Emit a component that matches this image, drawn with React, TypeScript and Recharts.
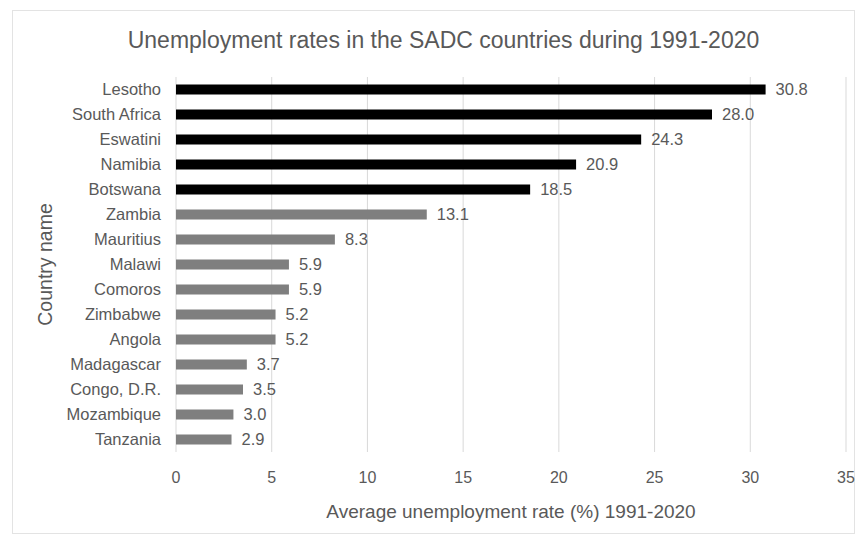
import React from 'react';
import { BarChart, Bar, XAxis, YAxis, CartesianGrid, Cell, LabelList, Label } from 'recharts';

const countries = ['Lesotho', 'South Africa', 'Eswatini', 'Namibia', 'Botswana', 'Zambia', 'Mauritius', 'Malawi', 'Comoros', 'Zimbabwe', 'Angola', 'Madagascar', 'Congo, D.R.', 'Mozambique', 'Tanzania'];
const rates = [30.8, 28.0, 24.3, 20.9, 18.5, 13.1, 8.3, 5.9, 5.9, 5.2, 5.2, 3.7, 3.5, 3.0, 2.9];
const xTicks = [0, 5, 10, 15, 20, 25, 30, 35];
const highlightedCount = 5;

const data = countries.map((c, i) => ({ country: c, rate: rates[i] }));

const FONT = '"Liberation Sans", Arial, sans-serif';

export default function App() {
  return (
    <div style={{ position: 'absolute', left: 0, top: 0, width: 865, height: 540, background: '#fff', fontFamily: FONT }}>
      <div style={{ position: 'absolute', left: 12, top: 10, width: 843, height: 524, border: '1px solid #e3e3e3', boxSizing: 'border-box' }} />
      <div style={{ position: 'absolute', left: 0, top: 26, width: 887, textAlign: 'center', fontSize: 23, lineHeight: '28px', color: '#595959' }}>
        Unemployment rates in the SADC countries during 1991-2020
      </div>
      <div style={{ position: 'absolute', left: 0, top: 0 }}>
        <BarChart width={865} height={540} data={data} layout="vertical" margin={{ top: 77, right: 19, bottom: 22, left: 0 }} barCategoryGap="30%">
          <CartesianGrid horizontal={false} vertical={true} stroke="#d9d9d9" />
          <XAxis type="number" domain={[0, 35]} ticks={xTicks} axisLine={false} tickLine={false} tick={{ fill: '#595959', fontSize: 16, fontFamily: FONT }} tickMargin={14} height={66}>
            <Label value="Average unemployment rate (%) 1991-2020" position="insideBottom" offset={0} style={{ fill: '#595959', fontSize: 19, fontFamily: FONT }} />
          </XAxis>
          <YAxis type="category" dataKey="country" width={176} axisLine={false} tickLine={false} tick={{ fill: '#595959', fontSize: 16.5, fontFamily: FONT }} tickMargin={9} interval={0}>
            <Label
              content={(props: any) => {
                const vb = props.viewBox || {};
                const cx = 45;
                const cy = (vb.y || 0) + (vb.height || 0) / 2;
                return (
                  <text x={cx} y={cy} transform={`rotate(-90 ${cx} ${cy})`} textAnchor="middle" dominantBaseline="central" fill="#595959" fontSize={19.5} fontFamily={FONT}>
                    Country name
                  </text>
                );
              }}
            />
          </YAxis>
          <Bar dataKey="rate" isAnimationActive={false}>
            {data.map((d, i) => (
              <Cell key={d.country} fill={i < highlightedCount ? '#000000' : '#7f7f7f'} />
            ))}
            <LabelList dataKey="rate" position="right" offset={10} formatter={(v: any) => Number(v).toFixed(1)} style={{ fill: '#595959', fontSize: 16.5, fontFamily: FONT }} />
          </Bar>
        </BarChart>
      </div>
    </div>
  );
}
